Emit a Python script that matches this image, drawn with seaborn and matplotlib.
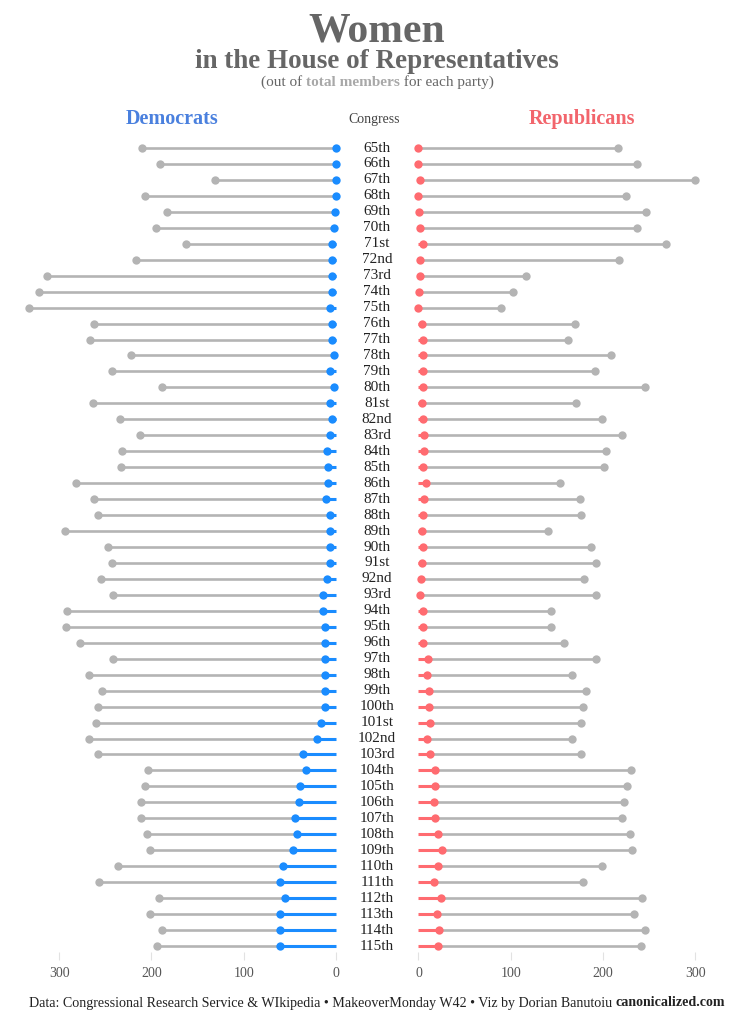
import numpy as np
import pandas as pd
import matplotlib
matplotlib.use("Agg")
import matplotlib.pyplot as plt
import seaborn as sns
from matplotlib.transforms import blended_transform_factory

congress = ["65th", "66th", "67th", "68th", "69th", "70th", "71st", "72nd", "73rd", "74th",
            "75th", "76th", "77th", "78th", "79th", "80th", "81st", "82nd", "83rd", "84th",
            "85th", "86th", "87th", "88th", "89th", "90th", "91st", "92nd", "93rd", "94th",
            "95th", "96th", "97th", "98th", "99th", "100th", "101st", "102nd", "103rd", "104th",
            "105th", "106th", "107th", "108th", "109th", "110th", "111th", "112th", "113th",
            "114th", "115th"]

dem_women = [0, 0, 0, 0, 1, 2, 4, 4, 4, 4,
             6, 4, 4, 2, 6, 2, 6, 4, 6, 10,
             9, 9, 11, 6, 7, 6, 6, 10, 14, 14,
             12, 12, 12, 12, 12, 12, 16, 21, 36, 32,
             39, 40, 44, 42, 47, 57, 61, 55, 61, 61, 61]

dem_total = [210, 191, 131, 207, 183, 195, 163, 217, 313, 322,
             333, 262, 267, 222, 243, 188, 263, 234, 212, 232,
             233, 282, 262, 258, 294, 247, 243, 255, 242, 291,
             292, 277, 242, 268, 253, 258, 260, 268, 258, 204,
             207, 211, 211, 205, 202, 236, 257, 192, 201, 188, 194]

rep_women = [0, 0, 2, 0, 1, 2, 5, 2, 2, 1,
             0, 4, 5, 5, 5, 5, 4, 5, 6, 6,
             5, 8, 6, 5, 4, 5, 4, 3, 2, 5,
             5, 5, 10, 9, 11, 11, 12, 9, 12, 18,
             18, 17, 18, 21, 25, 21, 17, 24, 20, 22, 21]

rep_total = [216, 237, 300, 225, 247, 237, 268, 217, 117, 103,
             89, 170, 162, 209, 191, 246, 171, 199, 221, 203,
             201, 153, 175, 176, 140, 187, 192, 180, 192, 144,
             144, 158, 192, 166, 182, 178, 176, 167, 176, 230,
             226, 223, 221, 229, 232, 199, 178, 242, 234, 246, 241]

x_ticks = [0, 100, 200, 300]

BLUE = "#1A8CFF"
RED = "#FF6B70"
GRAY = "#B4B4B4"
BLUE_LABEL = "#4A80DE"
RED_LABEL = "#F2656C"
TITLE_GRAY = "#666666"

sns.set_theme(style="white")
plt.rcParams['font.family'] = ['Liberation Serif', 'DejaVu Serif']

df = pd.DataFrame({
    "congress": congress,
    "dem_women": dem_women,
    "dem_total": dem_total,
    "rep_women": rep_women,
    "rep_total": rep_total,
})
df["pos"] = np.arange(len(df))

W, H = 755, 1024
fig = plt.figure(figsize=(W / 100, H / 100), dpi=100)
fig.patch.set_facecolor("white")

axL = fig.add_axes([10 / W, 64 / H, 330 / W, 825 / H])
axR = fig.add_axes([414 / W, 64 / H, 331 / W, 825 / H])

for ax, wcol, tcol, col in [(axL, "dem_women", "dem_total", BLUE),
                            (axR, "rep_women", "rep_total", RED)]:
    ax.hlines(df["pos"], df[wcol], df[tcol], color=GRAY, lw=1.9, zorder=1)
    ax.hlines(df["pos"], 0, df[wcol], color=col, lw=2.2, zorder=2)
    sns.scatterplot(data=df, x=tcol, y="pos", ax=ax, color=GRAY, s=36,
                    linewidth=0, zorder=3, legend=False)
    sns.scatterplot(data=df, x=wcol, y="pos", ax=ax, color=col, s=36,
                    linewidth=0, zorder=4, legend=False)
    ax.set_xlabel("")
    ax.set_ylabel("")
    ax.set_yticks([])
    ax.set_xticks(x_ticks)
    ax.set_xticklabels([str(v) for v in x_ticks])
    ax.tick_params(axis="x", direction="in", length=6, width=0.8, color="#E2E2E2",
                   labelcolor="#555555", labelsize=10, pad=5, bottom=True)
    ax.set_ylim(50.877, -0.815)
    for s in ax.spines.values():
        s.set_visible(False)
    ax.set_facecolor("none")

axL.set_xlim(353.2, -4.33)
axR.set_xlim(-4.88, 354.1)

# congress labels in the middle column
trans = blended_transform_factory(fig.transFigure, axL.transData)
for p, lab in zip(df["pos"], df["congress"]):
    axL.text(377 / W, p, lab, transform=trans, ha="center", va="center",
             fontsize=11, color="#222222", clip_on=False)

# titles
fig.text(377 / W, 1 - 31 / H, "Women", ha="center", va="center", fontsize=30,
         fontweight="bold", color=TITLE_GRAY)
fig.text(377 / W, 1 - 62 / H, "in the House of Representatives", ha="center",
         va="center", fontsize=19.5, fontweight="bold", color=TITLE_GRAY)

renderer = fig.canvas.get_renderer()


def rich_line(cx_px, y_px, pieces, fontsize):
    objs = []
    widths = []
    for s, kw in pieces:
        t = fig.text(0, 1 - y_px / H, s, fontsize=fontsize, va="center", ha="left", **kw)
        objs.append(t)
        widths.append(t.get_window_extent(renderer).width)
    total = sum(widths)
    x = cx_px - total / 2
    for t, w in zip(objs, widths):
        t.set_x(x / W)
        x += w


rich_line(377, 82, [("(out of ", dict(color=TITLE_GRAY)),
                    ("total members", dict(color="#A8A8A8", fontweight="bold")),
                    (" for each party)", dict(color=TITLE_GRAY))], 11)

fig.text(172 / W, 1 - 119 / H, "Democrats", ha="center", va="center", fontsize=14.5,
         fontweight="bold", color=BLUE_LABEL)
fig.text(582 / W, 1 - 119 / H, "Republicans", ha="center", va="center", fontsize=14.5,
         fontweight="bold", color=RED_LABEL)
fig.text(374 / W, 1 - 120 / H, "Congress", ha="center", va="center", fontsize=10,
         color="#444444")

rich_line(377, 1003, [("Data: Congressional Research Service & WIkipedia \u2022 MakeoverMonday W42 \u2022 Viz by Dorian Banutoiu ",
                       dict(color="#222222")),
                      ("canonicalized.com", dict(color="#222222", fontweight="bold"))], 10.1)

fig.savefig("out.png", dpi=100, facecolor="white")
